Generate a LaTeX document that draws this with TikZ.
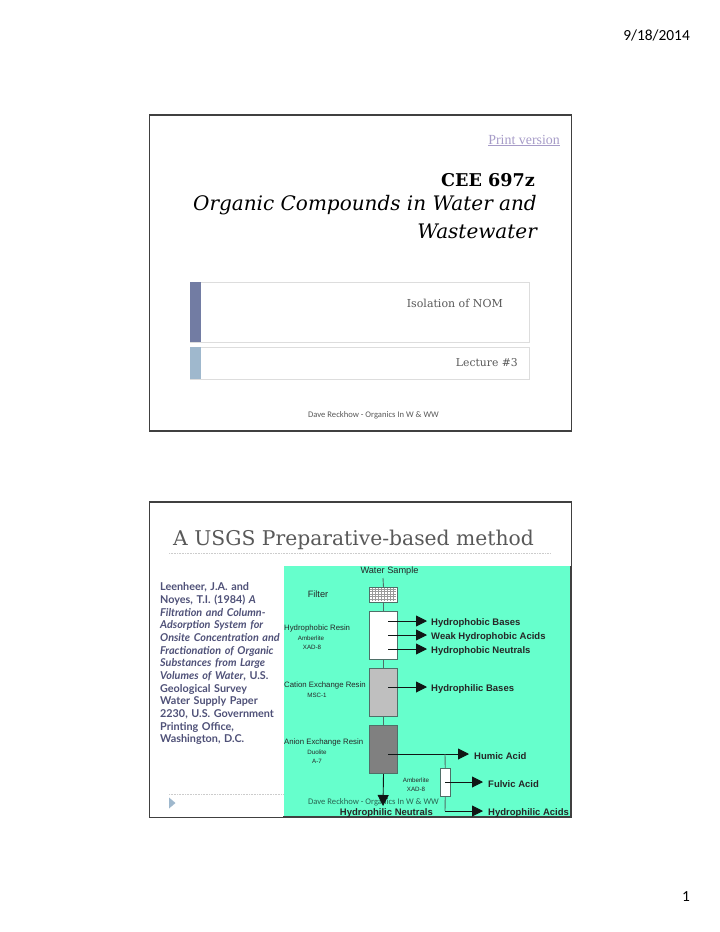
\documentclass[tikz,border=0pt]{standalone}
\usepackage{fontspec}
\setmainfont{Liberation Sans}
\newfontfamily\bookfont{DejaVu Serif}
\newfontfamily\timesfont{Liberation Serif}
\newfontfamily\gillfont{Lato}
\newfontfamily\calfont{Carlito}
\usetikzlibrary{arrows.meta}
\definecolor{teal1}{HTML}{66FFCC}
\definecolor{slideedge}{HTML}{404040}
\definecolor{boxedge}{HTML}{DDDDDD}
\definecolor{bar1}{HTML}{727CA3}
\definecolor{bar2}{HTML}{9FB8CD}
\definecolor{inktext}{HTML}{595959}
\definecolor{refcol}{HTML}{4F5178}
\definecolor{linkcol}{HTML}{A79CC8}
\definecolor{resinedge}{HTML}{4F6F68}
\definecolor{dotcol}{HTML}{CCCCCC}
\tikzset{
 x=1pt,y=-1pt,
 slide/.style={draw=slideedge,line width=1.5pt,fill=white,minimum width=422pt,anchor=north west,inner sep=0pt},
 pad/.style={draw=boxedge,line width=.7pt,fill=white,anchor=north west,minimum width=339pt,inner sep=0pt},
 padbar/.style={anchor=north west,minimum width=11pt,inner sep=0pt},
 resin/.style={draw=resinedge,line width=1pt,anchor=north west,minimum width=28pt,inner sep=0pt},
 pipe/.style={draw=resinedge,line width=.9pt},
 outflow/.style={draw=black!80!resinedge,line width=.9pt,-{Triangle[length=11pt,width=11pt]}},
 big/.style={inner sep=0pt,font=\bfseries\fontsize{9.5}{10}\selectfont,anchor=west,text=black!85},
 resinlab/.style={inner sep=0pt,font=\fontsize{7.8}{8}\selectfont,text=black!85},
 biglab/.style={inner sep=0pt,font=\fontsize{9.2}{10}\selectfont,text=black!85},
 tiny/.style={inner sep=0pt,font=\fontsize{6.2}{7}\selectfont,text=black!85},
 foot/.style={inner sep=0pt,font=\calfont\fontsize{8.6}{9}\selectfont,text=inktext}
}
\begin{document}
\begin{tikzpicture}
\useasboundingbox (0,0) rectangle (720,932);
\fill[white] (0,0) rectangle (720,932);
\node[inner sep=0pt,anchor=east,font=\calfont\fontsize{15.4}{16}\selectfont] (date) at (690,35) {9/18/2014};
\node[inner sep=0pt,anchor=east,font=\calfont\fontsize{15.4}{16}\selectfont] (pageno) at (690,897) {1};

% slide 1
\node[slide,minimum height=316pt] (s1) at (148.5,114) {};
\node[inner sep=0pt,anchor=east,font=\timesfont\fontsize{13.9}{14}\selectfont,text=linkcol] (print) at (560,140) {Print version};
\draw[linkcol,line width=.5pt] ([yshift=-.2pt]print.south west) -- ([yshift=-.2pt]print.south east);
\node[inner sep=0pt,anchor=east,font=\bookfont\bfseries\fontsize{17.6}{18}\selectfont] (cee) at (535,180) {CEE 697z};
\node[inner sep=0pt,anchor=east,font=\bookfont\itshape\fontsize{20}{20}\selectfont] (t1) at (537,205.5) {Organic Compounds in Water and};
\node[inner sep=0pt,anchor=east,font=\bookfont\itshape\fontsize{20}{20}\selectfont] (t2) at (537,231.5) {Wastewater};
\node[pad,minimum height=60pt] (p1) at (190,282) {};
\node[padbar,minimum height=60pt,fill=bar1] (b1) at (190,282) {};
\node[pad,minimum height=32pt] (p2) at (190,347) {};
\node[padbar,minimum height=32pt,fill=bar2] (b2) at (190,347) {};
\node[inner sep=0pt,anchor=east,font=\bookfont\fontsize{11}{11}\selectfont,text=inktext] (iso) at (503,303) {Isolation of NOM};
\node[inner sep=0pt,anchor=east,font=\bookfont\fontsize{10.8}{11}\selectfont,text=inktext] (lec) at (518,363) {Lecture \#3};
\node[foot] (f1) at (373.5,415) {Dave Reckhow - Organics In W \& WW};

% slide 2
\node[slide,minimum height=315.5pt] (s2) at (148.5,501) {};
\node[inner sep=0pt,anchor=west,font=\bookfont\fontsize{20.3}{21}\selectfont,text=inktext] (title2) at (173,540) {A USGS Preparative-based method};
\draw[dotcol,densely dotted,line width=.6pt] (169,553) -- (551,553);
\draw[dotcol,densely dotted,line width=.6pt] (169,794) -- (551,794);
\fill[bar2] (169,797.5) -- (175.5,803) -- (169,808.5) -- cycle;

\node[anchor=north west,inner sep=0pt,align=left,text width=125pt,font=\gillfont\bfseries\fontsize{10.8}{12.67}\selectfont,text=refcol] (refs) at (160,582.5)
{Leenheer, J.A. and\\ Noyes, T.I. (1984) \textit{A}\\ \textit{Filtration and Column-}\\ \textit{Adsorption System for}\\ \textit{Onsite Concentration and}\\ \textit{Fractionation of Organic}\\ \textit{Substances from Large}\\ \textit{Volumes of Water}, U.S.\\ Geological Survey\\ Water Supply Paper\\ 2230, U.S. Government\\ Printing Office,\\ Washington, D.C.};

% flow chart
\node[anchor=north west,fill=teal1,inner sep=0pt,minimum width=287pt,minimum height=250.5pt] (panel) at (283.5,566) {};
\draw[slideedge,line width=1.5pt] (570.5,566) -- (570.5,816.5) -- (283,816.5);
\node[biglab] (water) at (389.5,571) {Water Sample};
\coordinate (wtop) at (383,578);
\node[resin,minimum height=15pt,fill=white] (filter) at (369,587) {};
\foreach \yy in {589,591.5,594,596.5,599}
  \draw[black!40,line width=.6pt] (370,\yy) -- (396,\yy);
\foreach \xx in {372,375,378,381,384,387,390,393}
  \draw[black!40,line width=.6pt] (\xx,588) -- (\xx,601);
\node[resin,minimum height=48pt,fill=white] (r1) at (369,611) {};
\node[resin,minimum height=48pt,fill=black!25] (r2) at (369,668) {};
\node[resin,minimum height=48pt,fill=black!50] (r3) at (369,725) {};
\node[resin,minimum width=9.5pt,minimum height=28pt,fill=white] (r4) at (440,768) {};
\draw[pipe] (wtop) -- (filter.north);
\draw[pipe] (filter.south) -- (r1.north);
\draw[pipe] (r1.south) -- (r2.north);
\draw[pipe] (r2.south) -- (r3.north);

\node[biglab] (lfilter) at (318,594) {Filter};
\node[resinlab,anchor=west] (lr1) at (284,628.5) {Hydrophobic Resin};
\node[tiny] (lr1a) at (311,638) {Amberlite};
\node[tiny] (lr1b) at (312,647) {XAD-8};
\node[resinlab,anchor=west] (lr2) at (284,685.5) {Cation Exchange Resin};
\node[tiny] (lr2a) at (317,695) {MSC-1};
\node[resinlab,anchor=west] (lr3) at (284,742.5) {Anion Exchange Resin};
\node[tiny] (lr3a) at (317,752) {Duolite};
\node[tiny] (lr3b) at (317,761) {A-7};
\node[tiny] (lr4a) at (416,780) {Amberlite};
\node[tiny] (lr4b) at (416,789) {XAD-8};

\node[big] (o1) at (431,623) {Hydrophobic Bases};
\node[big] (o2) at (431,637) {Weak Hydrophobic Acids};
\node[big] (o3) at (431,651.5) {Hydrophobic Neutrals};
\node[big] (o4) at (431,689.5) {Hydrophilic Bases};
\node[big] (o5) at (474,756) {Humic Acid};
\node[big] (o6) at (488,784.5) {Fulvic Acid};
\node[big] (o7) at (488,813) {Hydrophilic Acids};
\node[foot,text=black!60!teal1] (f2) at (373.5,802) {Dave Reckhow - Organics In W \& WW};
\node[big,anchor=east] (o8) at (433,813) {Hydrophilic Neutrals};

\coordinate (s1a) at (388,621);
\coordinate (s1b) at (388,635);
\coordinate (s1c) at (388,649);
\coordinate (s2a) at (388,687);
\coordinate (s3a) at (388,754);
\coordinate (j1) at (445,754);
\coordinate (s4a) at (445,782);
\coordinate (j2) at (445,811);
\coordinate (downend) at (383,806);
\draw[outflow] (s1a) -- ([xshift=-4pt]o1.west|-s1a);
\draw[outflow] (s1b) -- ([xshift=-4pt]o2.west|-s1b);
\draw[outflow] (s1c) -- ([xshift=-4pt]o3.west|-s1c);
\draw[outflow] (s2a) -- ([xshift=-4pt]o4.west|-s2a);
\draw[outflow] (s3a) -- ([xshift=-5pt]o5.west|-s3a);
\draw[pipe] (j1) -- (r4.north);
\draw[outflow] (s4a) -- ([xshift=-5pt]o6.west|-s4a);
\draw[pipe] (r4.south) -- (j2);
\draw[outflow] (j2) -- ([xshift=-5pt]o7.west|-j2);
\draw[outflow] (r3.south) -- (downend);
\end{tikzpicture}
\end{document}
